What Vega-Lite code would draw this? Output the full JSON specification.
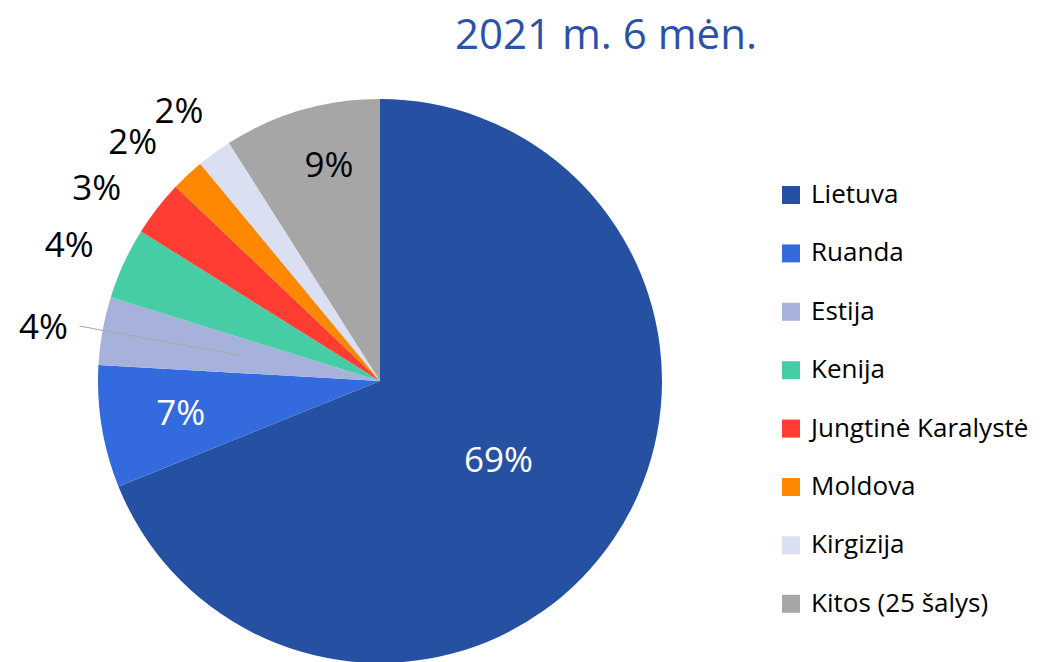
{
  "$schema": "https://vega.github.io/schema/vega-lite/v6.json",
  "autosize": {"type": "none"},
  "width": 760,
  "height": 648,
  "padding": {"left": 0, "top": 57, "right": 291, "bottom": 0},
  "background": "white",
  "title": {
    "text": "2021 m. 6 mėn.",
    "anchor": "middle",
    "dx": 226,
    "fontSize": 42,
    "font": "Open Sans",
    "fontWeight": "normal",
    "color": "#2A52A7",
    "offset": -14
  },
  "data": {
    "values": [
      {"country": "Lietuva", "value": 68.9, "label": "69%", "order": 1},
      {"country": "Ruanda", "value": 7.0, "label": "7%", "order": 2},
      {"country": "Estija", "value": 3.9, "label": "4%", "order": 3},
      {"country": "Kenija", "value": 4.1, "label": "4%", "order": 4},
      {"country": "Jungtinė Karalystė", "value": 3.2, "label": "3%", "order": 5},
      {"country": "Moldova", "value": 1.9, "label": "2%", "order": 6},
      {"country": "Kirgizija", "value": 2.0, "label": "2%", "order": 7},
      {"country": "Kitos (25 šalys)", "value": 9.0, "label": "9%", "order": 8}
    ]
  },
  "encoding": {
    "theta": {"field": "value", "type": "quantitative", "stack": true},
    "order": {"field": "order", "type": "quantitative"}
  },
  "layer": [
    {
      "mark": {"type": "arc", "outerRadius": 282},
      "encoding": {
        "color": {
          "field": "country",
          "type": "nominal",
          "scale": {
            "domain": ["Lietuva", "Ruanda", "Estija", "Kenija", "Jungtinė Karalystė", "Moldova", "Kirgizija", "Kitos (25 šalys)"],
            "range": ["#2651A3", "#336BDE", "#A6B2DB", "#46CDA5", "#FF3D33", "#FF8800", "#DAE0F2", "#A6A6A6"]
          },
          "legend": {
            "title": null,
            "orient": "none",
            "legendX": 778,
            "legendY": 125,
            "symbolType": "square",
            "symbolSize": 324,
            "symbolStrokeWidth": 0,
            "labelFont": "Open Sans",
            "labelFontSize": 26,
            "labelColor": "#000000",
            "labelOffset": 7,
            "rowPadding": 32.4,
            "labelLimit": 400
          }
        }
      }
    },
    {
      "mark": {"type": "text", "radius": 143, "font": "Open Sans", "fontSize": 35, "color": "white"},
      "encoding": {
        "text": {"condition": {"test": "datum.country === 'Lietuva'", "field": "label"}, "value": ""}
      }
    },
    {
      "mark": {"type": "text", "radius": 202, "font": "Open Sans", "fontSize": 35, "color": "white"},
      "encoding": {
        "text": {"condition": {"test": "datum.country === 'Ruanda'", "field": "label"}, "value": ""}
      }
    },
    {
      "mark": {"type": "text", "radius": 222, "dx": 11, "dy": -2, "font": "Open Sans", "fontSize": 35, "color": "black"},
      "encoding": {
        "text": {"condition": {"test": "datum.country === 'Kitos (25 šalys)'", "field": "label"}, "value": ""}
      }
    },
    {
      "mark": {"type": "text", "radius": 342, "dy": 8, "font": "Open Sans", "fontSize": 35, "color": "black"},
      "encoding": {
        "text": {"condition": {"test": "indexof(['Estija','Kenija','Kirgizija'], datum.country) >= 0", "field": "label"}, "value": ""}
      }
    },
    {
      "mark": {"type": "text", "radius": 342, "dx": -13, "dy": 18, "font": "Open Sans", "fontSize": 35, "color": "black"},
      "encoding": {
        "text": {"condition": {"test": "datum.country === 'Jungtinė Karalystė'", "field": "label"}, "value": ""}
      }
    },
    {
      "mark": {"type": "text", "radius": 342, "dx": -14, "dy": 12, "font": "Open Sans", "fontSize": 35, "color": "black"},
      "encoding": {
        "text": {"condition": {"test": "datum.country === 'Moldova'", "field": "label"}, "value": ""}
      }
    },
    {
      "mark": {"type": "text", "radius": 224, "font": "DejaVu Sans", "fontSize": 10, "color": "#A6A6A6", "angle": 10.3},
      "encoding": {
        "text": {"condition": {"test": "datum.country === 'Estija'", "value": "───────────────────────────"}, "value": ""}
      }
    }
  ],
  "config": {
    "view": {"stroke": null}
  }
}
